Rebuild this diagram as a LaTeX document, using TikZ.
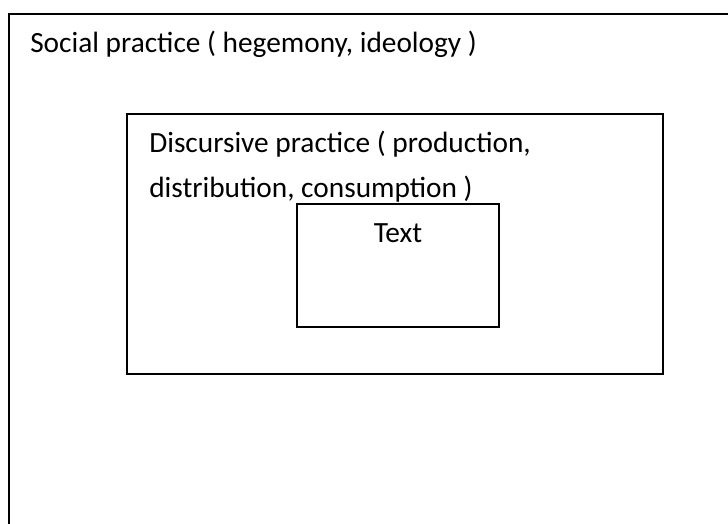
\documentclass[tikz,border=0pt]{standalone}
\usepackage{fontspec}
\setmainfont{Carlito}

\begin{document}
\begin{tikzpicture}[x=0.75pt,y=0.75pt,yscale=-1,xscale=1]
\useasboundingbox (0,0) rectangle (728,524);
\clip (0,0) rectangle (728,524);

%Shape: Rectangle [id:social]
\draw [line width=1.5]  (9,600) -- (9,14) -- (800,14) ;
%Shape: Rectangle [id:discursive]
\draw [line width=1.2]  (127,114) -- (663,114) -- (663,374) -- (127,374) -- cycle ;
%Shape: Rectangle [id:text]
\draw [line width=1.2]  (297,204) -- (499,204) -- (499,327) -- (297,327) -- cycle ;

% Text Node
\draw (30,53) node (social) [anchor=base west][inner sep=0pt]  [font=\fontsize{22}{27}\selectfont] [align=left] {Social practice ( hegemony, ideology )};
% Text Node
\draw (149,153) node (discA) [anchor=base west][inner sep=0pt]  [font=\fontsize{22}{27}\selectfont] [align=left] {Discursive practice ( production,};
% Text Node
\draw (149,197) node (discB) [anchor=base west][inner sep=0pt]  [font=\fontsize{22}{27}\selectfont] [align=left] {distribution, consumption )};
% Text Node
\draw (398,243) node (text) [anchor=base][inner sep=0pt]  [font=\fontsize{22}{27}\selectfont] [align=left] {Text};
\end{tikzpicture}
\end{document}
